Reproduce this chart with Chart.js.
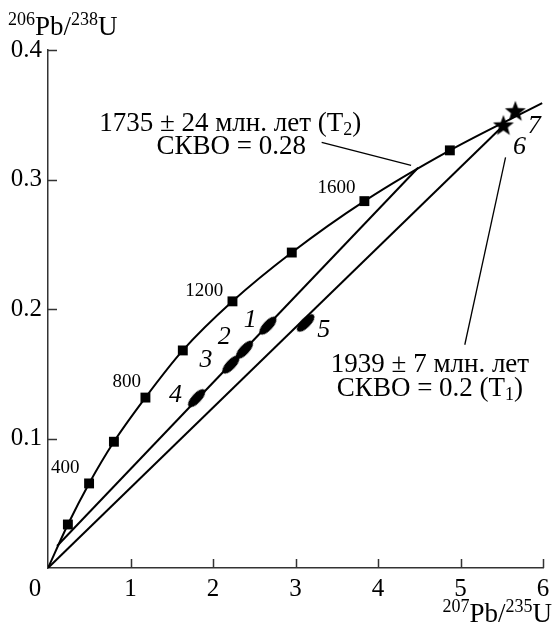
<!DOCTYPE html>
<html>
<head>
<meta charset="utf-8">
<script src="https://cdn.jsdelivr.net/npm/chart.js@4.4.1/dist/chart.umd.min.js"></script>
<style>
  html, body { margin: 0; padding: 0; background: #fff; }
  #wrap { width: 552px; height: 626px; }
</style>
</head>
<body>
<div id="wrap"><canvas id="chart-1" width="552" height="626"></canvas></div>
<script>
// concordia curve
const concordiaX = [0, 0.241, 0.498, 0.799, 1.181, 1.634, 2.236, 2.955, 3.835, 4.871, 5.99];
const concordiaY = [0, 0.0336, 0.0653, 0.0975, 0.1316, 0.168, 0.2059, 0.2436, 0.2833, 0.3225, 0.359];

// age marks (squares) 200..1800 Ma
const markX = [0.241, 0.498, 0.799, 1.181, 1.634, 2.236, 2.955, 3.835, 4.871];
const markY = [0.0336, 0.0653, 0.0975, 0.1316, 0.168, 0.2059, 0.2436, 0.2833, 0.3225];

// age labels on the curve
const ageLabels = ['400', '800', '1200', '1600'];
const ageLabelX = [0.208, 0.955, 1.895, 3.498];
const ageLabelY = [0.0772, 0.1437, 0.2142, 0.2932];

// zircon analyses (ellipses) 1..5
const ellipseX = [2.666, 2.382, 2.217, 1.802, 3.124];
const ellipseY = [0.1871, 0.1685, 0.1570, 0.1311, 0.1892];

// stars 6, 7
const starX = [5.52, 5.665];
const starY = [0.3417, 0.3527];

// analysis numbers
const pointNames = ['1', '2', '3', '4', '5', '6', '7'];
const pointNameX = [2.45, 2.137, 1.915, 1.546, 3.341, 5.714, 5.895];
const pointNameY = [0.1917, 0.1786, 0.1607, 0.1337, 0.1839, 0.3249, 0.3412];

// discordia lines
const discT2X = [0.11, 4.486];
const discT2Y = [0.017, 0.3091];
const discT1X = [0, 5.52];
const discT1Y = [0, 0.3417];

// leader lines from the captions
const leadT2X = [3.317, 4.401];
const leadT2Y = [0.3287, 0.3109];
const leadT1X = [5.052, 5.546];
const leadT1Y = [0.1724, 0.3171];

// tick values
const xTicks = [0, 1, 2, 3, 4, 5, 6];
const yTicks = [0, 0.1, 0.2, 0.3, 0.4];

const zip = (xs, ys) => xs.map((x, i) => ({ x: x, y: ys[i] }));

const serif = "'Liberation Serif', 'Times New Roman', Tinos, 'DejaVu Serif', serif";

// marker images
function ellipseImg() {
    const c = document.createElement('canvas');
    c.width = 24; c.height = 11;
    const g = c.getContext('2d');
    g.fillStyle = '#000';
    g.beginPath();
    g.ellipse(12, 5.5, 11.5, 4.8, 0, 0, Math.PI * 2);
    g.fill();
    return c;
}
function starImg() {
    const c = document.createElement('canvas');
    c.width = 24; c.height = 24;
    const g = c.getContext('2d');
    g.fillStyle = '#000';
    g.beginPath();
    for (let i = 0; i < 10; i++) {
        const r = i % 2 === 0 ? 11 : 4.6;
        const a = -Math.PI / 2 + i * Math.PI / 5;
        const px = 12 + r * Math.cos(a), py = 12.5 + r * Math.sin(a);
        if (i === 0) g.moveTo(px, py); else g.lineTo(px, py);
    }
    g.closePath();
    g.fill();
    return c;
}

// text with super/subscripts: parts = [text, size, dy]
function richText(ctx, parts, x, y, align) {
    let w = 0;
    parts.forEach(p => { ctx.font = p[1] + 'px ' + serif; w += ctx.measureText(p[0]).width; });
    let cx = align === 'center' ? x - w / 2 : align === 'right' ? x - w : x;
    parts.forEach(p => {
        ctx.font = p[1] + 'px ' + serif;
        ctx.fillText(p[0], cx, y + p[2]);
        cx += ctx.measureText(p[0]).width;
    });
}

const decor = {
    id: 'decor',
    afterDraw(chart) {
        const ctx = chart.ctx;
        const xs = chart.scales.x, ys = chart.scales.y;
        const a = chart.chartArea;
        ctx.save();
        // inward ticks
        ctx.strokeStyle = '#333';
        ctx.lineWidth = 1.5;
        ctx.beginPath();
        yTicks.forEach(v => {
            if (v === 0) return;
            const py = Math.round(ys.getPixelForValue(v)) + 0.5;
            ctx.moveTo(a.left, py); ctx.lineTo(a.left + 9, py);
        });
        xTicks.forEach(v => {
            if (v === 0) return;
            const px = Math.round(xs.getPixelForValue(v)) + 0.5;
            ctx.moveTo(px, a.bottom); ctx.lineTo(px, a.bottom - 9);
        });
        ctx.stroke();

        ctx.fillStyle = '#000';
        // x tick labels (corner zero sits left of the axis)
        ctx.font = '25px ' + serif;
        ctx.textAlign = 'center';
        ctx.textBaseline = 'middle';
        xTicks.forEach(v => {
            const px = v === 0 ? a.left - 13 : xs.getPixelForValue(v);
            ctx.fillText(String(v), px, a.bottom + 21);
        });

        // age labels
        ctx.font = '19px ' + serif;
        ageLabels.forEach((t, i) => {
            ctx.fillText(t, xs.getPixelForValue(ageLabelX[i]), ys.getPixelForValue(ageLabelY[i]));
        });
        // analysis numbers
        ctx.font = 'italic 26px ' + serif;
        pointNames.forEach((t, i) => {
            ctx.fillText(t, xs.getPixelForValue(pointNameX[i]), ys.getPixelForValue(pointNameY[i]));
        });

        // captions
        ctx.textAlign = 'left';
        ctx.textBaseline = 'middle';
        richText(ctx, [['1735 ± 24 млн. лет (T', 27, 0], ['2', 18, 6], [')', 27, 0]],
            xs.getPixelForValue(2.208), ys.getPixelForValue(0.3426), 'center');
        richText(ctx, [['СКВО = 0.28', 27, 0]],
            xs.getPixelForValue(2.22), ys.getPixelForValue(0.3248), 'center');
        richText(ctx, [['1939 ± 7 млн. лет', 27, 0]],
            xs.getPixelForValue(4.63), ys.getPixelForValue(0.1569), 'center');
        richText(ctx, [['СКВО = 0.2 (T', 27, 0], ['1', 18, 6], [')', 27, 0]],
            xs.getPixelForValue(4.63), ys.getPixelForValue(0.1384), 'center');

        // axis titles
        ctx.textBaseline = 'alphabetic';
        richText(ctx, [['206', 18, -10], ['Pb/', 27, 0], ['238', 18, -10], ['U', 27, 0]], 8, 35, 'left');
        richText(ctx, [['207', 18, -10], ['Pb/', 27, 0], ['235', 18, -10], ['U', 27, 0]], 552, 622, 'right');
        ctx.restore();
    }
};

const lineStyle = {
    showLine: true,
    borderColor: '#000',
    borderWidth: 2,
    pointRadius: 0,
    fill: false
};

function build() {
    const ctx = document.getElementById('chart-1').getContext('2d');
    const myChart = new Chart(ctx, {
        type: 'scatter',
        data: {
            datasets: [
                {
                    data: zip(starX, starY),
                    pointStyle: starImg(),
                    pointRadius: 8
                },
                {
                    data: zip(ellipseX, ellipseY),
                    pointStyle: ellipseImg(),
                    pointRadius: 6,
                    rotation: [-47, -47, -47, -47, -45]
                },
                {
                    data: zip(markX, markY),
                    pointStyle: 'rect',
                    pointRadius: 7,
                    backgroundColor: '#000',
                    borderColor: '#000',
                    borderWidth: 0
                },
                Object.assign({ data: zip(concordiaX, concordiaY), cubicInterpolationMode: 'monotone' }, lineStyle),
                Object.assign({ data: zip(discT2X, discT2Y) }, lineStyle),
                Object.assign({ data: zip(discT1X, discT1Y) }, lineStyle),
                Object.assign({ data: zip(leadT2X, leadT2Y) }, lineStyle, { borderWidth: 1.3 }),
                Object.assign({ data: zip(leadT1X, leadT1Y) }, lineStyle, { borderWidth: 1.3 })
            ]
        },
        options: {
            responsive: false,
            animation: false,
            events: [],
            layout: { padding: { top: 50, right: 6, left: 0, bottom: 0 } },
            plugins: {
                legend: { display: false },
                tooltip: { enabled: false }
            },
            scales: {
                x: {
                    type: 'linear',
                    min: 0,
                    max: 6,
                    afterBuildTicks: s => { s.ticks = xTicks.map(v => ({ value: v })); },
                    afterFit: s => { s.height = 58; },
                    grid: { display: true, drawOnChartArea: false, drawTicks: false },
                    border: { display: true, color: '#333', width: 1.5 },
                    ticks: { display: false }
                },
                y: {
                    type: 'linear',
                    min: 0,
                    max: 0.4,
                    afterBuildTicks: s => { s.ticks = yTicks.map(v => ({ value: v })); },
                    afterFit: s => { s.width = 48; },
                    grid: { display: true, drawOnChartArea: false, drawTicks: false },
                    border: { display: true, color: '#333', width: 1.5 },
                    ticks: {
                        color: '#000',
                        padding: 6,
                        font: { family: serif, size: 25 },
                        callback: v => (v === 0 ? '' : v.toFixed(1))
                    }
                }
            }
        },
        plugins: [decor]
    });
}

const fontLoads = [
    document.fonts.load("24px 'Liberation Serif'"),
    document.fonts.load("italic 24px 'Liberation Serif'")
];
Promise.all(fontLoads).then(build, build);
</script>
</body>
</html>
